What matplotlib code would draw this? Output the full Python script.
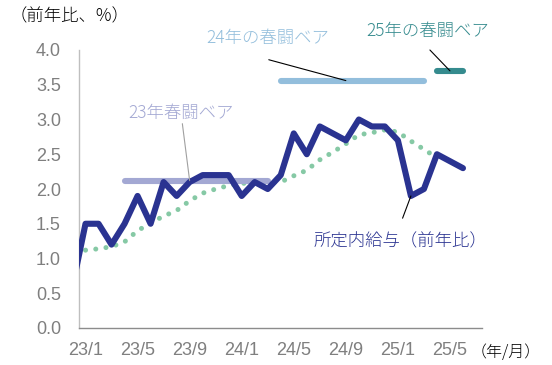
import matplotlib
matplotlib.use("Agg")
import matplotlib.pyplot as plt
import numpy as np

# ---- data ----
months = ["22/12",
          "23/1", "23/2", "23/3", "23/4", "23/5", "23/6", "23/7", "23/8", "23/9", "23/10", "23/11", "23/12",
          "24/1", "24/2", "24/3", "24/4", "24/5", "24/6", "24/7", "24/8", "24/9", "24/10", "24/11", "24/12",
          "25/1", "25/2", "25/3", "25/4", "25/5", "25/6"]
shotei = [0.6,
          1.5, 1.5, 1.2, 1.5, 1.9, 1.5, 2.1, 1.9, 2.1, 2.2, 2.2, 2.2,
          1.9, 2.1, 2.0, 2.2, 2.8, 2.5, 2.9, 2.8, 2.7, 3.0, 2.9, 2.9,
          2.7, 1.9, 2.0, 2.5, 2.4, 2.3]
trend = [np.nan,
         1.12, 1.14, 1.17, 1.24, 1.40, 1.51, 1.61, 1.69, 1.83, 1.94, 2.00, 2.05,
         2.08, 2.09, 2.10, 2.10, 2.19, 2.27, 2.42, 2.53, 2.65, 2.78, 2.81, 2.85,
         2.82, 2.69, 2.57, 2.45, np.nan, np.nan]
bea_23 = 2.12   # 23/4 - 24/3
bea_24 = 3.56   # 24/4 - 25/3
bea_25 = 3.70   # 25/4 - 25/6
bea_23_span = ("23/4", "24/3")
bea_24_span = ("24/4", "25/3")
bea_25_span = ("25/4", "25/6")
tick_labels = ["23/1", "23/5", "23/9", "24/1", "24/5", "24/9", "25/1", "25/5"]
yticks = [0.0, 0.5, 1.0, 1.5, 2.0, 2.5, 3.0, 3.5, 4.0]

# ---- style ----
CJK = ["Noto Sans CJK JP", "DejaVu Sans"]
NAVY = "#2A3391"
GREEN = "#86C9A5"
LAV = "#A3A8D3"
LBLUE = "#93BEDC"
TEAL = "#358B8E"
TICK = "#7F7F7F"
LIGHT = "light"

x = np.arange(len(months))
idx = {m: i for i, m in enumerate(months)}

fig = plt.figure(figsize=(5.52, 3.65), dpi=100)
ax = fig.add_axes([79/552, 1-328/365, (482.5-79)/552, (328-50)/365])

ax.plot(x, trend, color=GREEN, lw=3.6, linestyle=(0, (0.01, 2.05)),
        dash_capstyle="round", zorder=2)

def bar(span, val, color):
    a, b = idx[span[0]], idx[span[1]]
    ax.plot([a, b], [val, val], color=color, lw=4.4, solid_capstyle="round",
            zorder=3, clip_on=False)

bar(bea_23_span, bea_23, LAV)
bar(bea_24_span, bea_24, LBLUE)
bar(bea_25_span, bea_25, TEAL)

ax.plot(x, shotei, color=NAVY, lw=4.4, solid_joinstyle="round",
        solid_capstyle="round", zorder=4)

ax.set_xlim(0.5, len(months) - 1 + 1.5)
ax.set_ylim(0, 4.0)
ax.set_yticks(yticks)
ax.set_yticklabels([f"{v:.1f}" for v in yticks])
ax.set_xticks([idx[m] for m in tick_labels])
ax.set_xticklabels(tick_labels)
ax.tick_params(axis="both", length=0, labelsize=13, labelcolor=TICK)
ax.tick_params(axis="y", pad=13)
ax.tick_params(axis="x", pad=10)
for lab in ax.get_xticklabels() + ax.get_yticklabels():
    lab.set_fontfamily("Liberation Sans")
for s in ["top", "right"]:
    ax.spines[s].set_visible(False)
ax.spines["left"].set_color("#BFBFBF")
ax.spines["bottom"].set_color("#8C8C8C")
ax.spines["left"].set_linewidth(1.0)
ax.spines["bottom"].set_linewidth(1.0)

# annotations (leader lines)
def leader(xy, xytext, line_color, lw=0.8):
    ax.annotate("", xy=xy, xytext=xytext,
                arrowprops=dict(arrowstyle="-", color=line_color, lw=lw,
                                shrinkA=0, shrinkB=0),
                annotation_clip=False, zorder=5)

leader((idx["23/9"], bea_23), (8.44, 2.94), "#A0A0A0")
ax.text(8.3, 3.09, "23年春闘ベア", color=LAV, fontsize=12.5, family=CJK,
        weight=LIGHT, ha="center", va="center")
leader((idx["24/9"], bea_24), (15.08, 3.86), "#000000")
ax.text(15.0, 4.17, "24年の春闘ベア", color=LBLUE, fontsize=12.5, family=CJK,
        weight=LIGHT, ha="center", va="center", clip_on=False)
leader((idx["25/5"], bea_25), (27.46, 4.0), "#000000")
ax.text(27.3, 4.27, "25年の春闘ベア", color=TEAL, fontsize=12.5, family=CJK,
        weight=LIGHT, ha="center", va="center", clip_on=False)
leader((idx["25/2"], shotei[idx["25/2"]]), (25.36, 1.58), "#000000")
ax.text(25.2, 1.24, "所定内給与（前年比）", color=NAVY, fontsize=12.5, family=CJK,
        weight=LIGHT, ha="center", va="center")

fig.text(10/552, 1-16/365, "（前年比、%）", fontsize=12.5, family=CJK,
         weight=LIGHT, color="black", ha="left", va="center")
fig.text(541/552, 1-353/365, "（年/月）", fontsize=11.5, family=CJK,
         weight=LIGHT, color="black", ha="right", va="center")

fig.savefig("out.png", dpi=100)
